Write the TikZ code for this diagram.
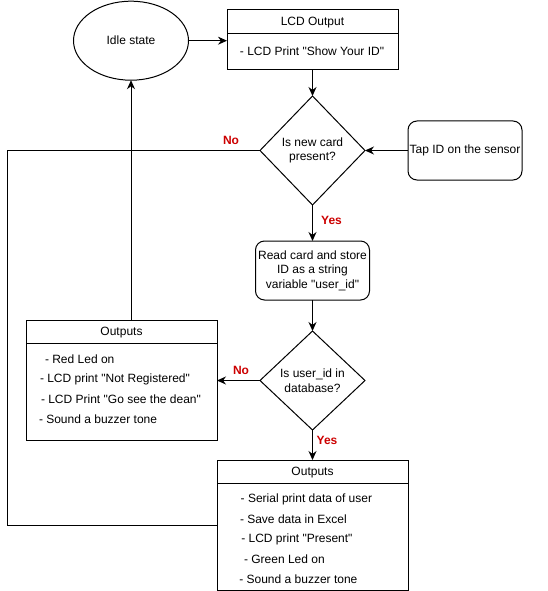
\documentclass[tikz,border=0pt]{standalone}
\usepackage{fontspec}
\setmainfont{Liberation Sans}
\usetikzlibrary{shapes.geometric,arrows.meta,calc}
\definecolor{lblred}{HTML}{CC0000}
\newcommand{\dq}{\textquotedbl}
\begin{document}
\begin{tikzpicture}[x=1pt,y=-1pt,
  font=\fontsize{12}{14.5}\selectfont,
  every node/.style={inner sep=0pt,outer sep=0pt},
  base/.style={draw,line width=1pt,align=center},
  ellnode/.style={base,ellipse,minimum width=115pt,minimum height=79pt},
  boxnode/.style={base,rectangle},
  rbox/.style={base,rectangle,rounded corners=9pt,minimum width=114pt,minimum height=59pt},
  dia/.style={base,diamond,minimum width=105pt},
  txt/.style={anchor=west},
  lbl/.style={text=lblred,font=\fontsize{12}{14.5}\selectfont\bfseries},
  arr/.style={line width=1pt,-{Stealth[length=9pt,width=8pt]}},
  ln/.style={line width=1pt}
]
\useasboundingbox (0,0) rectangle (548,591);

\node[ellnode] (idle) at (131,40.7) {Idle state};
\node[boxnode,minimum width=171pt,minimum height=60pt] (lcd) at (312.5,40) {};
\node (lcdh) at ([yshift=-12.5pt]lcd.north) {LCD Output};
\node (lcdb) at (312,51) {- LCD Print \dq Show Your ID\dq};
\draw[ln] ([yshift=-24pt]lcd.north west) -- ([yshift=-24pt]lcd.north east);

\node[dia,minimum height=109pt] (d1) at (312.5,150.5) {Is new card\\present?};
\node[rbox] (tap) at (465,150.5) {Tap ID on the sensor};
\node[rbox] (read) at (312.5,270.5) {Read card and store\\ID as a string\\variable \dq user\_id\dq};
\node[dia,minimum height=99pt] (d2) at (312.5,380.5) {Is user\_id in\\database?};

\node[boxnode,minimum width=191pt,minimum height=120pt] (out1) at (121.5,380) {};
\node (out1h) at ([yshift=-12.5pt]out1.north) {Outputs};
\draw[ln] ([yshift=-23pt]out1.north west) -- ([yshift=-23pt]out1.north east);
\node[txt] (o1a) at (45,359.3) {- Red Led on};
\node[txt] (o1b) at (40,379.3) {- LCD print \dq Not Registered\dq};
\node[txt] (o1c) at (41,399.3) {- LCD Print \dq Go see the dean\dq};
\node[txt] (o1d) at (39,419.3) {- Sound a buzzer tone};

\node[boxnode,minimum width=191pt,minimum height=130pt] (out2) at (312.5,525) {};
\node (out2h) at ([yshift=-12.5pt]out2.north) {Outputs};
\draw[ln] ([yshift=-23pt]out2.north west) -- ([yshift=-23pt]out2.north east);
\node[txt] (o2a) at (240.7,499.3) {- Serial print data of user};
\node[txt] (o2b) at (240,519.3) {- Save data in Excel};
\node[txt] (o2c) at (241.3,539.3) {- LCD print \dq Present\dq};
\node[txt] (o2d) at (244,559.3) {- Green Led on};
\node[txt] (o2e) at (239.3,579.3) {- Sound a buzzer tone};

\coordinate (lt) at (7,150.5);
\coordinate (lb) at (7,525);

\draw[arr] (idle.east) -- (lcd.west |- idle.east);
\draw[arr] (lcd.south) -- (d1.north);
\draw[arr] (tap.west) -- (d1.east);
\draw[arr] (d1.south) -- (read.north);
\draw[arr] (read.south) -- (d2.north);
\draw[arr] (d2.west) -- (out1.east |- d2.west);
\draw[arr] (d2.south) -- (out2.north);
\draw[arr] (idle.south |- out1.north) -- (idle.south);
\draw[ln] (d1.west) -- (lt) -- (lb) -- (out2.west);

\node[lbl] (no1) at (231,140) {No};
\node[lbl] (yes1) at (331.5,220.5) {Yes};
\node[lbl] (no2) at (241,370) {No};
\node[lbl] (yes2) at (327,440) {Yes};
\end{tikzpicture}
\end{document}
